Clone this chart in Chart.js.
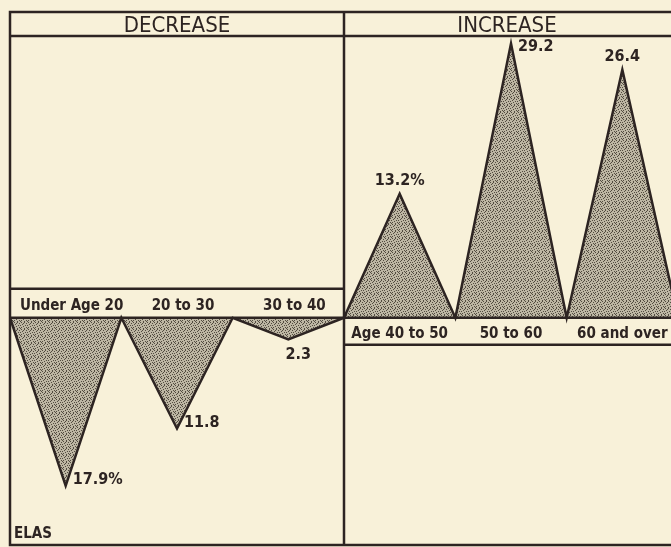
<!DOCTYPE html>
<html>
<head>
<meta charset="utf-8">
<title>Decrease and increase by age</title>
<script src="https://cdn.jsdelivr.net/npm/chart.js@4"></script>
<style>
  html, body { margin: 0; padding: 0; background: #f8f1d9; overflow: hidden; }
  #wrap { width: 690px; height: 547px; }
</style>
</head>
<body>
<div id="wrap"><canvas id="chart" width="690" height="547"></canvas></div>
<script>
'use strict';

// age groups, left panel = decrease, right panel = increase
let decreaseLabels = ['Under Age 20', '20 to 30', '30 to 40'];
let decreaseValues = [17.9, 11.8, 2.3];
let decreaseText = ['17.9%', '11.8', '2.3'];

let increaseLabels = ['Age 40 to 50', '50 to 60', '60 and over'];
let increaseValues = [13.2, 29.2, 26.4];
let increaseText = ['13.2%', '29.2', '26.4'];

let panelTitles = ['DECREASE', 'INCREASE'];
let cornerNote = 'ELAS';

// where each value label sits relative to the tip of its triangle
let decreaseTextPos = ['right', 'right', 'below'];
let increaseTextPos = ['above', 'right', 'above'];

const ink = '#2d2422';

function makeStipple() {
  let c = document.createElement('canvas');
  c.width = 7;
  c.height = 7;
  let g = c.getContext('2d');
  g.fillStyle = '#bdb6a3';
  g.fillRect(0, 0, 7, 7);
  g.fillStyle = '#524b40';
  let dots = [[0, 0], [3, 0], [5, 1], [1, 2], [4, 3], [6, 3], [2, 4], [0, 5], [5, 5], [3, 6], [6, 6], [2, 1]];
  dots.forEach(function (d) { g.fillRect(d[0], d[1], 1, 1); });
  return g.createPattern(c, 'repeat');
}

// each triangle: base from i to i+1, tip at i+0.5
function triangles(values, start, sign) {
  let pts = [{ x: start, y: 0 }];
  for (let i = 0; i < values.length; i++) {
    pts.push({ x: start + i + 0.5, y: sign * values[i] });
    pts.push({ x: start + i + 1, y: 0 });
  }
  return pts;
}

const framePlugin = {
  id: 'framePlugin',
  afterDatasetsDraw(chart) {
    let ctx = chart.ctx;
    let xs = chart.scales.x;
    let ys = chart.scales.y;
    let area = chart.chartArea;
    let base = ys.getPixelForValue(0);
    let mid = xs.getPixelForValue(decreaseValues.length);
    let top = 12;

    ctx.save();
    ctx.strokeStyle = ink;
    ctx.lineWidth = 2.5;
    ctx.beginPath();
    ctx.rect(area.left, top, area.right - area.left, area.bottom - top);
    ctx.moveTo(area.left, area.top);
    ctx.lineTo(area.right, area.top);
    ctx.moveTo(mid, top);
    ctx.lineTo(mid, area.bottom);
    ctx.moveTo(area.left, base - 29);
    ctx.lineTo(mid, base - 29);
    ctx.moveTo(area.left, base);
    ctx.lineTo(area.right, base);
    ctx.moveTo(mid, base + 27);
    ctx.lineTo(area.right, base + 27);
    ctx.stroke();

    ctx.fillStyle = ink;
    ctx.textAlign = 'center';
    ctx.textBaseline = 'alphabetic';
    ctx.font = '22px "DejaVu Sans Condensed"';
    ctx.fillText(panelTitles[0], (area.left + mid) / 2, 32);
    ctx.fillText(panelTitles[1], xs.getPixelForValue(decreaseValues.length + increaseValues.length / 2) - 4, 32);

    ctx.font = 'bold 15px "DejaVu Sans Condensed"';
    decreaseLabels.forEach(function (lab, i) {
      ctx.fillText(lab, xs.getPixelForValue(i + 0.5) + 6, base - 8);
    });
    increaseLabels.forEach(function (lab, i) {
      ctx.fillText(lab, xs.getPixelForValue(decreaseValues.length + i + 0.5), base + 20);
    });

    ctx.font = 'bold 16px "DejaVu Sans Condensed"';
    ctx.textBaseline = 'middle';
    function tipText(txt, x, y, pos, up) {
      if (pos === 'right') {
        ctx.textAlign = 'left';
        ctx.fillText(txt, x + 7, up ? y + 3 : y - 6);
      } else if (pos === 'above') {
        ctx.textAlign = 'center';
        ctx.fillText(txt, x, y - 13);
      } else {
        ctx.textAlign = 'center';
        ctx.fillText(txt, x + 10, y + 16);
      }
    }
    decreaseValues.forEach(function (v, i) {
      tipText(decreaseText[i], xs.getPixelForValue(i + 0.5), ys.getPixelForValue(-v), decreaseTextPos[i], false);
    });
    increaseValues.forEach(function (v, i) {
      let k = decreaseValues.length + i + 0.5;
      tipText(increaseText[i], xs.getPixelForValue(k), ys.getPixelForValue(v), increaseTextPos[i], true);
    });

    ctx.textAlign = 'left';
    ctx.textBaseline = 'alphabetic';
    ctx.font = 'bold 15px "DejaVu Sans Condensed"';
    ctx.fillText(cornerNote, area.left + 4, area.bottom - 7);
    ctx.restore();
  }
};

function renderChart() {
  let stipple = makeStipple();
  const ctx = document.getElementById('chart');
  const config = {
    type: 'line',
    data: {
      datasets: [
        {
          label: 'Decrease',
          data: triangles(decreaseValues, 0, -1),
          borderColor: ink,
          borderWidth: 2.5,
          backgroundColor: stipple,
          fill: 'origin',
          pointRadius: 0,
          tension: 0
        },
        {
          label: 'Increase',
          data: triangles(increaseValues, decreaseValues.length, 1),
          borderColor: ink,
          borderWidth: 2.5,
          backgroundColor: stipple,
          fill: 'origin',
          pointRadius: 0,
          tension: 0
        }
      ]
    },
    options: {
      responsive: false,
      animation: false,
      layout: { padding: { left: 10, right: 12, top: 36, bottom: 2 } },
      scales: {
        x: { type: 'linear', min: 0, max: decreaseValues.length + increaseValues.length, display: false },
        y: { min: -24.2, max: 30, display: false }
      },
      plugins: {
        legend: { display: false },
        tooltip: { enabled: false }
      }
    },
    plugins: [framePlugin]
  };
  new Chart(ctx, config);
}

renderChart();
</script>
</body>
</html>
